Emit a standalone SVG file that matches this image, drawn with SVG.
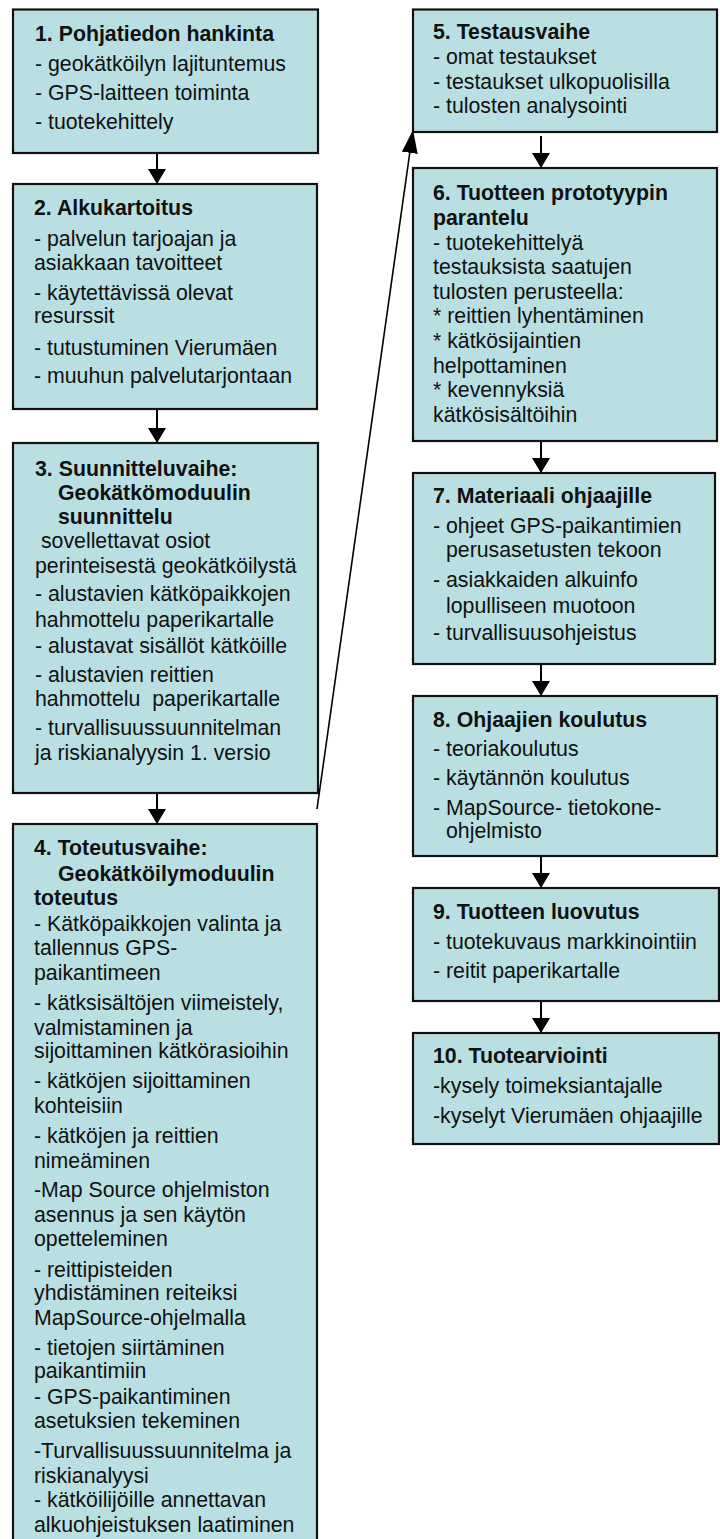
<svg xmlns="http://www.w3.org/2000/svg" width="720" height="1539" viewBox="0 0 720 1539">
<style>
.box{fill:#BADFE3;stroke:#111;stroke-width:2.2}
text{font-family:"Liberation Sans",Arial,Helvetica,sans-serif;font-size:21.3px;fill:#111;white-space:pre}
.t{font-weight:bold}
.c{stroke:#000;stroke-width:2;fill:none}
.d{stroke:#000;stroke-width:1.6;fill:none}
</style>
<defs>
<marker id="ah" markerUnits="userSpaceOnUse" markerWidth="16" markerHeight="18" refX="15" refY="9" orient="auto"><path d="M0,0 L15,9 L0,18 z" fill="#000"/></marker>
<marker id="ah2" markerUnits="userSpaceOnUse" markerWidth="24" markerHeight="16" refX="23" refY="8" orient="auto"><path d="M0,0 L23,8 L0,16 z" fill="#000"/></marker>
</defs>
<rect width="720" height="1539" fill="#fff"/>
<g id="connectors">
<line class="c" x1="157" y1="153" x2="157" y2="184" marker-end="url(#ah)"/>
<line class="c" x1="157" y1="409" x2="157" y2="443" marker-end="url(#ah)"/>
<line class="c" x1="157" y1="793" x2="157" y2="824" marker-end="url(#ah)"/>
<line class="d" x1="317" y1="809" x2="413" y2="130" marker-end="url(#ah2)"/>
<line class="c" x1="541" y1="136" x2="541" y2="168" marker-end="url(#ah)"/>
<line class="c" x1="541" y1="441" x2="541" y2="473" marker-end="url(#ah)"/>
<line class="c" x1="541" y1="664" x2="541" y2="696" marker-end="url(#ah)"/>
<line class="c" x1="541" y1="856" x2="541" y2="888" marker-end="url(#ah)"/>
<line class="c" x1="541" y1="1001" x2="541" y2="1033" marker-end="url(#ah)"/>
</g>
<g id="n1">
<rect class="box" x="13" y="9.5" width="305" height="143.5"/>
<text class="t" x="35" y="41">1. Pohjatiedon hankinta</text>
<text x="35" y="71">- geokätköilyn lajituntemus</text>
<text x="35" y="100">- GPS-laitteen toiminta</text>
<text x="35" y="129">- tuotekehittely</text>
</g>
<g id="n2">
<rect class="box" x="13" y="184" width="304" height="225"/>
<text class="t" x="34" y="215">2. Alkukartoitus</text>
<text x="34" y="246">- palvelun tarjoajan ja</text>
<text x="34" y="270">asiakkaan tavoitteet</text>
<text x="34" y="300">- käytettävissä olevat</text>
<text x="34" y="323">resurssit</text>
<text x="34" y="355">- tutustuminen Vierumäen</text>
<text x="34" y="383">- muuhun palvelutarjontaan</text>
</g>
<g id="n3">
<rect class="box" x="13" y="443" width="305" height="350"/>
<text class="t" x="35" y="476">3. Suunnitteluvaihe:</text>
<text class="t" x="58" y="500">Geokätkömoduulin</text>
<text class="t" x="58" y="524">suunnittelu</text>
<text x="35" y="548"> sovellettavat osiot</text>
<text x="35" y="573">perinteisestä geokätköilystä</text>
<text x="35" y="601">- alustavien kätköpaikkojen</text>
<text x="35" y="627">hahmottelu paperikartalle</text>
<text x="35" y="653">- alustavat sisällöt kätköille</text>
<text x="35" y="682">- alustavien reittien</text>
<text x="35" y="706">hahmottelu  paperikartalle</text>
<text x="35" y="735">- turvallisuussuunnitelman</text>
<text x="35" y="760">ja riskianalyysin 1. versio</text>
</g>
<g id="n4">
<rect class="box" x="13" y="824" width="304" height="730"/>
<text class="t" x="34" y="855">4. Toteutusvaihe:</text>
<text class="t" x="58" y="881">Geokätköilymoduulin</text>
<text class="t" x="34" y="905">toteutus</text>
<text x="34" y="931">- Kätköpaikkojen valinta ja</text>
<text x="34" y="955">tallennus GPS-</text>
<text x="34" y="980">paikantimeen</text>
<text x="34" y="1010">- kätksisältöjen viimeistely,</text>
<text x="34" y="1035">valmistaminen ja</text>
<text x="34" y="1058">sijoittaminen kätkörasioihin</text>
<text x="34" y="1088">- kätköjen sijoittaminen</text>
<text x="34" y="1113">kohteisiin</text>
<text x="34" y="1143">- kätköjen ja reittien</text>
<text x="34" y="1168">nimeäminen</text>
<text x="34" y="1197">-Map Source ohjelmiston</text>
<text x="34" y="1222">asennus ja sen käytön</text>
<text x="34" y="1246">opetteleminen</text>
<text x="34" y="1277">- reittipisteiden</text>
<text x="34" y="1300">yhdistäminen reiteiksi</text>
<text x="34" y="1325">MapSource-ohjelmalla</text>
<text x="34" y="1355">- tietojen siirtäminen</text>
<text x="34" y="1378">paikantimiin</text>
<text x="34" y="1404">- GPS-paikantiminen</text>
<text x="34" y="1428">asetuksien tekeminen</text>
<text x="34" y="1458">-Turvallisuussuunnitelma ja</text>
<text x="34" y="1483">riskianalyysi</text>
<text x="34" y="1507">- kätköilijöille annettavan</text>
<text x="34" y="1532">alkuohjeistuksen laatiminen</text>
</g>
<g id="n5">
<rect class="box" x="413" y="9.5" width="304" height="122.5"/>
<text class="t" x="433" y="39">5. Testausvaihe</text>
<text x="433" y="64">- omat testaukset</text>
<text x="433" y="89">- testaukset ulkopuolisilla</text>
<text x="433" y="113">- tulosten analysointi</text>
</g>
<g id="n6">
<rect class="box" x="413" y="168" width="304" height="273"/>
<text class="t" x="433" y="200">6. Tuotteen prototyypin</text>
<text class="t" x="433" y="225">parantelu</text>
<text x="433" y="250">- tuotekehittelyä</text>
<text x="433" y="274">testauksista saatujen</text>
<text x="433" y="299">tulosten perusteella:</text>
<text x="433" y="323">* reittien lyhentäminen</text>
<text x="433" y="348">* kätkösijaintien</text>
<text x="433" y="373">helpottaminen</text>
<text x="433" y="397">* kevennyksiä</text>
<text x="433" y="422">kätkösisältöihin</text>
</g>
<g id="n7">
<rect class="box" x="413" y="473" width="302" height="191"/>
<text class="t" x="433" y="503">7. Materiaali ohjaajille</text>
<text x="433" y="533">- ohjeet GPS-paikantimien</text>
<text x="446" y="557">perusasetusten tekoon</text>
<text x="433" y="587">- asiakkaiden alkuinfo</text>
<text x="446" y="613">lopulliseen muotoon</text>
<text x="433" y="640">- turvallisuusohjeistus</text>
</g>
<g id="n8">
<rect class="box" x="413" y="696" width="304" height="160"/>
<text class="t" x="433" y="727">8. Ohjaajien koulutus</text>
<text x="433" y="756">- teoriakoulutus</text>
<text x="433" y="785">- käytännön koulutus</text>
<text x="433" y="815">- MapSource- tietokone-</text>
<text x="446" y="838">ohjelmisto</text>
</g>
<g id="n9">
<rect class="box" x="413" y="888" width="306" height="113"/>
<text class="t" x="433" y="919">9. Tuotteen luovutus</text>
<text x="433" y="949">- tuotekuvaus markkinointiin</text>
<text x="433" y="978">- reitit paperikartalle</text>
</g>
<g id="n10">
<rect class="box" x="413" y="1033" width="306" height="111"/>
<text class="t" x="433" y="1063">10. Tuotearviointi</text>
<text x="433" y="1093">-kysely toimeksiantajalle</text>
<text x="433" y="1123">-kyselyt Vierumäen ohjaajille</text>
</g>
</svg>
